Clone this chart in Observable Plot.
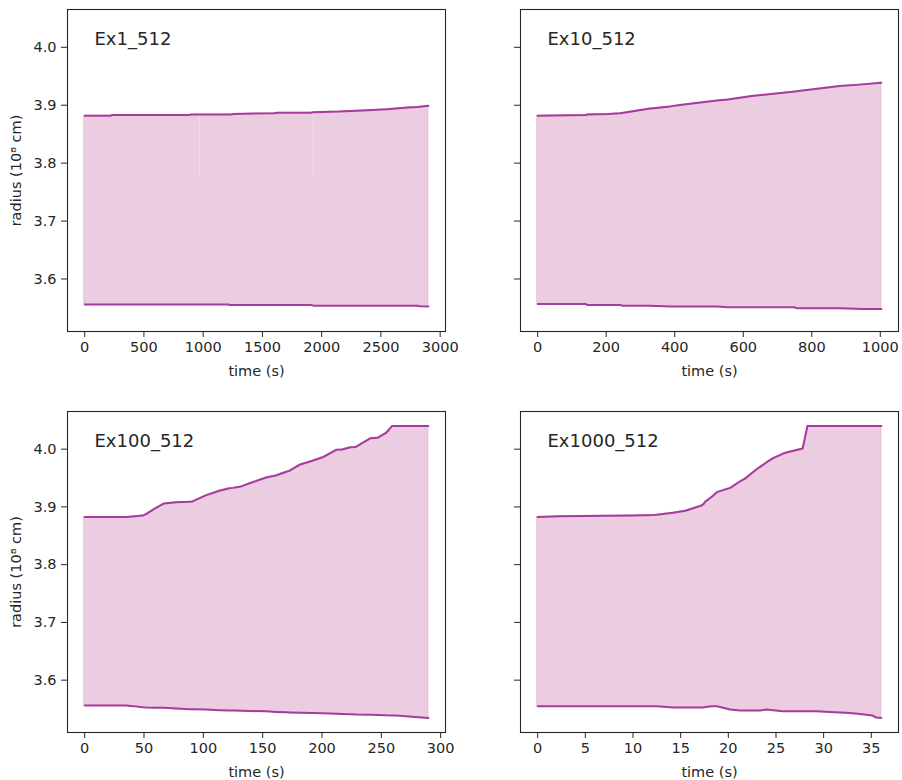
<!DOCTYPE html>
<html><head><meta charset="utf-8">
<script src="https://cdn.jsdelivr.net/npm/d3@7"></script>
<script src="https://cdn.jsdelivr.net/npm/@observablehq/plot@0.6"></script>
<style>
body{margin:0;background:#fff;}
#wrap{position:relative;width:902px;height:780px;font-family:"DejaVu Sans",sans-serif;}
#wrap svg{position:absolute;}
</style></head><body><div id="wrap"></div>
<script>
// ---- data ----
const titles = ["Ex1_512", "Ex10_512", "Ex100_512", "Ex1000_512"];
const yTicks = [3.6, 3.7, 3.8, 3.9, 4.0];

const ex1Time  = [0, 220, 230, 880, 900, 1210, 1230, 1260, 1600, 1630, 1910, 1930, 2150, 2350, 2550, 2730, 2810, 2830, 2900];
const ex1Upper = [3.882, 3.882, 3.883, 3.883, 3.884, 3.884, 3.884, 3.885, 3.886, 3.887, 3.887, 3.888, 3.889, 3.891, 3.893, 3.896, 3.897, 3.8975, 3.899];
const ex1Lower = [3.556, 3.556, 3.556, 3.556, 3.556, 3.556, 3.555, 3.555, 3.555, 3.555, 3.555, 3.554, 3.554, 3.554, 3.554, 3.554, 3.554, 3.553, 3.5525];
const ex1XTicks = [0, 500, 1000, 1500, 2000, 2500, 3000];
const ex1SeamTimes = [970, 1930];
const ex1SeamBottom = 3.78;

const ex10Time  = [0, 140, 145, 207, 241, 246, 324, 387, 416, 523, 556, 625, 751, 756, 882, 950, 1003];
const ex10Upper = [3.882, 3.883, 3.884, 3.885, 3.886, 3.8865, 3.894, 3.898, 3.9005, 3.908, 3.910, 3.916, 3.9235, 3.924, 3.933, 3.936, 3.939];
const ex10Lower = [3.557, 3.557, 3.555, 3.555, 3.555, 3.554, 3.554, 3.5525, 3.5525, 3.5525, 3.551, 3.551, 3.551, 3.5495, 3.5495, 3.548, 3.548];
const ex10XTicks = [0, 200, 400, 600, 800, 1000];

const ex100Time  = [0, 35, 40.7, 49, 52, 59, 67, 77, 88, 91, 102, 113.5, 122, 125, 132, 139, 153, 161, 170, 172, 181, 192, 200.5, 212, 217, 224, 228.5, 241, 247, 254, 259, 262, 289.6];
const ex100Upper = [3.8824, 3.8824, 3.8836, 3.885, 3.888, 3.897, 3.906, 3.908, 3.909, 3.9095, 3.92, 3.928, 3.9325, 3.933, 3.9355, 3.941, 3.951, 3.9545, 3.961, 3.962, 3.973, 3.980, 3.986, 3.999, 3.9995, 4.0035, 4.004, 4.019, 4.020, 4.0284, 4.040, 4.040, 4.040];
const ex100Lower = [3.556, 3.556, 3.555, 3.553, 3.5526, 3.5522, 3.552, 3.551, 3.5497, 3.5497, 3.549, 3.548, 3.5476, 3.5474, 3.547, 3.5465, 3.546, 3.545, 3.5442, 3.544, 3.5435, 3.543, 3.5425, 3.542, 3.5415, 3.541, 3.5405, 3.540, 3.5395, 3.539, 3.5389, 3.5388, 3.5346];
const ex100XTicks = [0, 50, 100, 150, 200, 250, 300];

const ex1000Time  = [0, 2.4, 10.1, 12.2, 12.5, 14.2, 15.5, 17.2, 17.4, 17.6, 18.3, 18.8, 20.2, 21.2, 21.75, 23.1, 23.3, 24.0, 24.7, 25.7, 26.1, 27.8, 28.3, 29.2, 30.6, 32.7, 33.8, 35.1, 35.5, 36.05];
const ex1000Upper = [3.8824, 3.884, 3.8853, 3.886, 3.8865, 3.890, 3.8934, 3.9026, 3.905, 3.9095, 3.918, 3.9256, 3.933, 3.944, 3.949, 3.967, 3.969, 3.977, 3.9844, 3.992, 3.9943, 4.0012, 4.040, 4.040, 4.040, 4.040, 4.040, 4.040, 4.040, 4.040];
const ex1000Lower = [3.555, 3.555, 3.555, 3.555, 3.555, 3.5526, 3.5526, 3.5526, 3.5528, 3.5535, 3.5548, 3.5548, 3.5491, 3.5474, 3.5474, 3.5474, 3.5474, 3.5491, 3.548, 3.5462, 3.5462, 3.5462, 3.5462, 3.5462, 3.545, 3.5433, 3.5415, 3.5388, 3.5353, 3.5346];
const ex1000XTicks = [0, 5, 10, 15, 20, 25, 30, 35];

// ---- styling ----
const LINE = "#a53c9e";
const FILL = "#eccce1";
const EDGE = "#e2b8d5";
const INK = "#262626";

const allVals = [...ex1Upper, ...ex1Lower, ...ex10Upper, ...ex10Lower, ...ex100Upper, ...ex100Lower, ...ex1000Upper, ...ex1000Lower];
const [yMin, yMax] = d3.extent(allVals);
const yPad = (yMax - yMin) * 0.05;
const yDomain = [yMin - yPad, yMax + yPad];

function panel(idx, time, upper, lower, xTicks, left, top, extra = []) {
  const data = time.map((t, k) => ({t, up: upper[k], lo: lower[k]}));
  const xMax = d3.max(time);
  const xDomain = [-0.05 * xMax, 1.05 * xMax];
  const isLeft = left === 0;
  const isTop = top === 0;
  const svg = Plot.plot({
    width: 451, height: 390,
    marginLeft: isLeft ? 67 : 69,
    marginRight: isLeft ? 6 : 4,
    marginTop: isTop ? 9 : 21,
    marginBottom: isTop ? 59 : 48,
    style: {fontFamily: "DejaVu Sans, sans-serif", fontSize: "14.5px", color: INK, background: "transparent", overflow: "visible"},
    x: {domain: xDomain},
    y: {domain: yDomain},
    marks: [
      Plot.areaY(data, {x: "t", y1: "lo", y2: "up", fill: FILL, stroke: EDGE, strokeWidth: 1}),
      ...extra,
      Plot.lineY(data, {x: "t", y: "up", stroke: LINE, strokeWidth: 2}),
      Plot.lineY(data, {x: "t", y: "lo", stroke: LINE, strokeWidth: 2}),
      Plot.frame({stroke: INK, strokeWidth: 1.1}),
      Plot.axisX({ticks: xTicks, tickSize: 6, tickPadding: 4, tickFormat: d => String(d), fontSize: 14.5,
        label: "time (s)", labelAnchor: "center", labelArrow: "none", labelOffset: 44, stroke: INK}),
      Plot.axisY({ticks: yTicks, tickSize: 6, tickPadding: 5, fontSize: 14.5,
        tickFormat: isLeft ? d3.format(".1f") : () => "",
        label: isLeft ? "radius (10\u2078 cm)" : null, labelAnchor: "center", labelArrow: "none", labelOffset: 57, stroke: INK}),
      Plot.text([titles[idx]], {frameAnchor: "top-left", text: d => d, dx: 27, dy: 23, lineAnchor: "top", textAnchor: "start", fontSize: 18, fill: INK})
    ]
  });
  svg.style.left = left + "px";
  svg.style.top = top + "px";
  document.getElementById("wrap").appendChild(svg);
}

const seams = ex1SeamTimes.map(t => ({t}));
const ex1Data = ex1Time.map((t, k) => ({t, up: ex1Upper[k]}));
const seamMarks = [Plot.ruleX(seams, {
  x: "t",
  y1: ex1SeamBottom,
  y2: d => { const i = d3.bisectLeft(ex1Time, d.t); return ex1Upper[Math.min(i, ex1Upper.length - 1)] - 0.003; },
  stroke: "#ffffff", strokeOpacity: 0.35, strokeWidth: 1
})];

panel(0, ex1Time, ex1Upper, ex1Lower, ex1XTicks, 0, 0, seamMarks);
panel(1, ex10Time, ex10Upper, ex10Lower, ex10XTicks, 451, 0);
panel(2, ex100Time, ex100Upper, ex100Lower, ex100XTicks, 0, 390);
panel(3, ex1000Time, ex1000Upper, ex1000Lower, ex1000XTicks, 451, 390);
</script>
</body></html>
